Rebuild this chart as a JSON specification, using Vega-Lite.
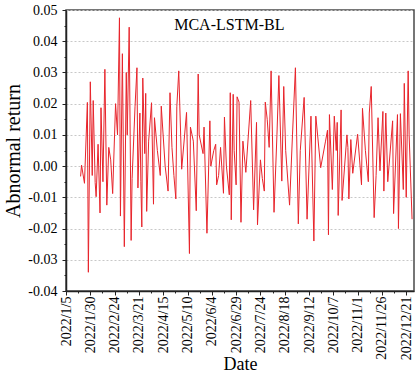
{
  "$schema": "https://vega.github.io/schema/vega-lite/v6.json",
  "width": 348,
  "height": 281,
  "autosize": {"type": "none"},
  "padding": {"left": 66, "top": 10, "right": 2, "bottom": 85},
  "background": "white",
  "config": {
    "view": {"stroke": "#4a4a4a", "strokeWidth": 1.5},
    "font": "Liberation Serif",
    "axis": {"labelFont": "Liberation Serif", "titleFont": "Liberation Serif", "labelColor": "#000", "titleColor": "#000", "titleFontWeight": "normal", "domainColor": "#222", "domainWidth": 1.5, "tickColor": "#222", "tickWidth": 1}
  },
  "layer": [
    {
      "data": {"values": [
        {"date": "2022-01-20", "r": -0.0033}, {"date": "2022-01-21", "r": 0.0003}, {"date": "2022-01-24", "r": -0.0055}, {"date": "2022-01-27", "r": 0.0204},
        {"date": "2022-01-28", "r": -0.034}, {"date": "2022-01-30", "r": 0.027}, {"date": "2022-02-01", "r": -0.003}, {"date": "2022-02-02", "r": 0.021},
        {"date": "2022-02-04", "r": -0.0053}, {"date": "2022-02-05", "r": -0.0098}, {"date": "2022-02-07", "r": 0.007}, {"date": "2022-02-09", "r": -0.015},
        {"date": "2022-02-10", "r": 0.0187}, {"date": "2022-02-12", "r": -0.005}, {"date": "2022-02-14", "r": 0.031}, {"date": "2022-02-16", "r": -0.0125},
        {"date": "2022-02-18", "r": 0.006}, {"date": "2022-02-20", "r": 0.002}, {"date": "2022-02-22", "r": -0.0088}, {"date": "2022-02-25", "r": 0.02},
        {"date": "2022-02-27", "r": 0.01}, {"date": "2022-03-01", "r": 0.0475}, {"date": "2022-03-02", "r": -0.016}, {"date": "2022-03-04", "r": 0.036},
        {"date": "2022-03-06", "r": -0.0258}, {"date": "2022-03-08", "r": 0.03}, {"date": "2022-03-09", "r": 0.01}, {"date": "2022-03-11", "r": 0.0445},
        {"date": "2022-03-13", "r": -0.0238}, {"date": "2022-03-14", "r": -0.004}, {"date": "2022-03-17", "r": 0.019}, {"date": "2022-03-19", "r": 0.0315},
        {"date": "2022-03-20", "r": -0.007}, {"date": "2022-03-22", "r": 0.017}, {"date": "2022-03-23", "r": -0.005}, {"date": "2022-03-24", "r": -0.0195},
        {"date": "2022-03-25", "r": 0.0282}, {"date": "2022-03-27", "r": 0.004}, {"date": "2022-03-28", "r": 0.0233}, {"date": "2022-03-29", "r": -0.0145},
        {"date": "2022-03-31", "r": 0.008}, {"date": "2022-04-03", "r": 0.0203}, {"date": "2022-04-05", "r": -0.0122}, {"date": "2022-04-06", "r": 0.0155},
        {"date": "2022-04-09", "r": 0.005}, {"date": "2022-04-12", "r": -0.003}, {"date": "2022-04-13", "r": 0.0192}, {"date": "2022-04-17", "r": 0.0},
        {"date": "2022-04-20", "r": -0.008}, {"date": "2022-04-22", "r": 0.0235}, {"date": "2022-04-24", "r": 0.006}, {"date": "2022-04-26", "r": -0.003},
        {"date": "2022-04-28", "r": -0.0105}, {"date": "2022-04-29", "r": 0.019}, {"date": "2022-05-01", "r": 0.0305}, {"date": "2022-05-04", "r": -0.001},
        {"date": "2022-05-09", "r": 0.0172}, {"date": "2022-05-12", "r": -0.028}, {"date": "2022-05-13", "r": 0.0125}, {"date": "2022-05-16", "r": 0.008},
        {"date": "2022-05-19", "r": -0.0143}, {"date": "2022-05-21", "r": 0.0295}, {"date": "2022-05-22", "r": 0.01}, {"date": "2022-05-26", "r": 0.004},
        {"date": "2022-05-27", "r": 0.0125}, {"date": "2022-05-30", "r": -0.0215}, {"date": "2022-06-02", "r": 0.0145}, {"date": "2022-06-03", "r": 0.0},
        {"date": "2022-06-06", "r": 0.005}, {"date": "2022-06-08", "r": 0.007}, {"date": "2022-06-09", "r": -0.006}, {"date": "2022-06-11", "r": -0.003},
        {"date": "2022-06-13", "r": 0.006}, {"date": "2022-06-16", "r": -0.0087}, {"date": "2022-06-17", "r": 0.0157}, {"date": "2022-06-19", "r": 0.0},
        {"date": "2022-06-22", "r": -0.0092}, {"date": "2022-06-23", "r": 0.0235}, {"date": "2022-06-24", "r": -0.0172}, {"date": "2022-06-26", "r": 0.023},
        {"date": "2022-06-27", "r": 0.005}, {"date": "2022-06-29", "r": -0.006}, {"date": "2022-06-30", "r": 0.0222}, {"date": "2022-07-02", "r": 0.0205},
        {"date": "2022-07-04", "r": -0.018}, {"date": "2022-07-06", "r": 0.008}, {"date": "2022-07-09", "r": -0.002}, {"date": "2022-07-14", "r": 0.021},
        {"date": "2022-07-17", "r": -0.014}, {"date": "2022-07-20", "r": 0.014}, {"date": "2022-07-21", "r": -0.0188}, {"date": "2022-07-24", "r": 0.002},
        {"date": "2022-07-26", "r": -0.004}, {"date": "2022-07-28", "r": -0.008}, {"date": "2022-07-29", "r": 0.0205}, {"date": "2022-07-31", "r": 0.015},
        {"date": "2022-08-02", "r": 0.006}, {"date": "2022-08-04", "r": 0.0305}, {"date": "2022-08-07", "r": -0.0148}, {"date": "2022-08-10", "r": 0.01},
        {"date": "2022-08-12", "r": 0.029}, {"date": "2022-08-15", "r": -0.0048}, {"date": "2022-08-17", "r": 0.0255}, {"date": "2022-08-19", "r": 0.005},
        {"date": "2022-08-23", "r": -0.0125}, {"date": "2022-08-26", "r": 0.01}, {"date": "2022-08-29", "r": 0.0315}, {"date": "2022-09-01", "r": -0.0185},
        {"date": "2022-09-03", "r": 0.005}, {"date": "2022-09-07", "r": 0.022}, {"date": "2022-09-10", "r": -0.017}, {"date": "2022-09-14", "r": 0.016},
        {"date": "2022-09-17", "r": -0.024}, {"date": "2022-09-19", "r": 0.016}, {"date": "2022-09-24", "r": -0.0005}, {"date": "2022-09-29", "r": 0.008},
        {"date": "2022-10-01", "r": 0.0115}, {"date": "2022-10-02", "r": -0.022}, {"date": "2022-10-03", "r": 0.0165}, {"date": "2022-10-06", "r": -0.0075},
        {"date": "2022-10-08", "r": 0.016}, {"date": "2022-10-10", "r": 0.005}, {"date": "2022-10-11", "r": 0.014}, {"date": "2022-10-12", "r": -0.0158},
        {"date": "2022-10-15", "r": 0.018}, {"date": "2022-10-16", "r": -0.011}, {"date": "2022-10-21", "r": 0.01}, {"date": "2022-10-22", "r": 0.006},
        {"date": "2022-10-23", "r": -0.0105}, {"date": "2022-10-25", "r": 0.0085}, {"date": "2022-10-27", "r": -0.0023}, {"date": "2022-11-01", "r": 0.0102},
        {"date": "2022-11-05", "r": -0.006}, {"date": "2022-11-06", "r": 0.0185}, {"date": "2022-11-09", "r": 0.005}, {"date": "2022-11-12", "r": -0.005},
        {"date": "2022-11-13", "r": 0.017}, {"date": "2022-11-15", "r": 0.0255}, {"date": "2022-11-18", "r": -0.0165}, {"date": "2022-11-20", "r": -0.003},
        {"date": "2022-11-22", "r": 0.0155}, {"date": "2022-11-24", "r": -0.0015}, {"date": "2022-11-27", "r": 0.0175}, {"date": "2022-11-28", "r": -0.008},
        {"date": "2022-11-30", "r": 0.017}, {"date": "2022-12-02", "r": -0.005}, {"date": "2022-12-07", "r": 0.0145}, {"date": "2022-12-08", "r": -0.0152},
        {"date": "2022-12-12", "r": 0.0165}, {"date": "2022-12-13", "r": -0.02}, {"date": "2022-12-15", "r": 0.0168}, {"date": "2022-12-18", "r": -0.0075},
        {"date": "2022-12-19", "r": 0.0265}, {"date": "2022-12-21", "r": -0.01}, {"date": "2022-12-23", "r": 0.0305}, {"date": "2022-12-24", "r": 0.01},
        {"date": "2022-12-27", "r": -0.017}
      ]},
      "mark": {"type": "line", "color": "#e8242b", "strokeWidth": 1, "clip": true},
      "encoding": {
        "x": {
          "field": "date", "type": "temporal",
          "scale": {"type": "utc", "domain": [{"year": 2022, "month": 1, "date": 5, "utc": true}, {"year": 2022, "month": 12, "date": 29, "utc": true}], "nice": false},
          "axis": {
            "title": "Date", "titleFontSize": 18, "titlePadding": -4,
            "labelFontSize": 14, "labelAngle": -90, "labelPadding": 1, "labelOverlap": false, "labelBound": false, "labelFlush": false,
            "grid": false, "tickCount": 100,
            "tickSize": {"condition": {"test": "utchours(datum.value) === 0", "value": 4}, "value": 2},
            "labelExpr": "utchours(datum.value) === 0 ? utcFormat(datum.value, '%Y/%-m/%-d') : ''",
            "values": [
              {"year": 2022, "month": 1, "date": 5, "utc": true}, {"year": 2022, "month": 1, "date": 17, "hours": 12, "utc": true},
              {"year": 2022, "month": 1, "date": 30, "utc": true}, {"year": 2022, "month": 2, "date": 11, "hours": 12, "utc": true},
              {"year": 2022, "month": 2, "date": 24, "utc": true}, {"year": 2022, "month": 3, "date": 8, "hours": 12, "utc": true},
              {"year": 2022, "month": 3, "date": 21, "utc": true}, {"year": 2022, "month": 4, "date": 2, "hours": 12, "utc": true},
              {"year": 2022, "month": 4, "date": 15, "utc": true}, {"year": 2022, "month": 4, "date": 27, "hours": 12, "utc": true},
              {"year": 2022, "month": 5, "date": 10, "utc": true}, {"year": 2022, "month": 5, "date": 22, "hours": 12, "utc": true},
              {"year": 2022, "month": 6, "date": 4, "utc": true}, {"year": 2022, "month": 6, "date": 16, "hours": 12, "utc": true},
              {"year": 2022, "month": 6, "date": 29, "utc": true}, {"year": 2022, "month": 7, "date": 11, "hours": 12, "utc": true},
              {"year": 2022, "month": 7, "date": 24, "utc": true}, {"year": 2022, "month": 8, "date": 5, "hours": 12, "utc": true},
              {"year": 2022, "month": 8, "date": 18, "utc": true}, {"year": 2022, "month": 8, "date": 30, "hours": 12, "utc": true},
              {"year": 2022, "month": 9, "date": 12, "utc": true}, {"year": 2022, "month": 9, "date": 24, "hours": 12, "utc": true},
              {"year": 2022, "month": 10, "date": 7, "utc": true}, {"year": 2022, "month": 10, "date": 19, "hours": 12, "utc": true},
              {"year": 2022, "month": 11, "date": 1, "utc": true}, {"year": 2022, "month": 11, "date": 13, "hours": 12, "utc": true},
              {"year": 2022, "month": 11, "date": 26, "utc": true}, {"year": 2022, "month": 12, "date": 8, "hours": 12, "utc": true},
              {"year": 2022, "month": 12, "date": 21, "utc": true}
            ]
          }
        },
        "y": {
          "field": "r", "type": "quantitative",
          "scale": {"domain": [-0.04, 0.05], "nice": false, "zero": false},
          "axis": {
            "title": "Abnormal return", "titleFontSize": 20, "titlePadding": 4,
            "labelFontSize": 14, "labelPadding": 5, "labelOverlap": false, "labelBound": false, "labelFlush": false,
            "tickCount": 100,
            "values": [-0.04, -0.035, -0.03, -0.025, -0.02, -0.015, -0.01, -0.005, 0, 0.005, 0.01, 0.015, 0.02, 0.025, 0.03, 0.035, 0.04, 0.045, 0.05],
            "tickSize": {"condition": {"test": "round(datum.value * 200) % 2 === 0", "value": 4}, "value": 2},
            "labelExpr": "round(datum.value * 200) % 2 === 0 ? (datum.value < -0.0001 ? '-' : '') + format(abs(datum.value), '.2f') : ''",
            "grid": true, "gridColor": "#c8c8c8", "gridDash": [2, 2], "gridWidth": 1,
            "gridOpacity": {"condition": {"test": "round(datum.value * 200) % 2 === 0", "value": 1}, "value": 0}
          }
        }
      }
    },
    {
      "data": {"values": [{"label": "MCA-LSTM-BL"}]},
      "mark": {"type": "text", "font": "Liberation Serif", "fontSize": 16, "color": "#000", "align": "center", "baseline": "middle"},
      "encoding": {
        "x": {"datum": {"year": 2022, "month": 6, "date": 22, "utc": true}, "type": "temporal"},
        "y": {"datum": 0.0452, "type": "quantitative"},
        "text": {"field": "label"}
      }
    }
  ]
}
